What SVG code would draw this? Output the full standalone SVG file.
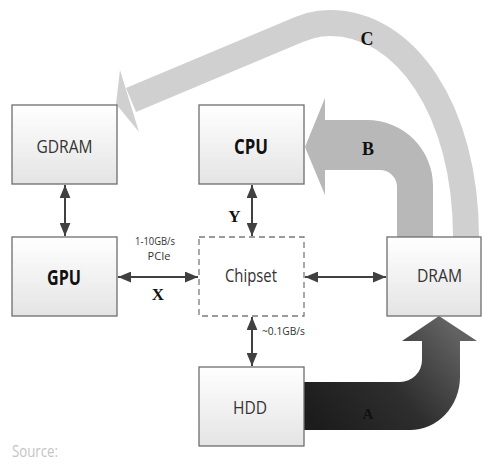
<svg xmlns="http://www.w3.org/2000/svg" width="482" height="464" viewBox="0 0 482 464">
<defs>
<linearGradient id="boxg" x1="0" y1="0" x2="0" y2="1">
<stop offset="0" stop-color="#ffffff"/>
<stop offset="1" stop-color="#e4e4e4"/>
</linearGradient>
<linearGradient id="ag" gradientUnits="userSpaceOnUse" x1="320" y1="430" x2="445" y2="320">
<stop offset="0" stop-color="#1c1c1c"/>
<stop offset="0.5" stop-color="#2e2e2e"/>
<stop offset="1" stop-color="#626262"/>
</linearGradient>
<marker id="ah" viewBox="0 0 12 10" refX="12" refY="5" markerWidth="6.5" markerHeight="5.5" orient="auto-start-reverse" markerUnits="strokeWidth">
<path d="M0,0 L12,5 L0,10 Z" fill="#404040"/>
</marker>
<style>
.box{fill:url(#boxg);stroke:#6e6e6e;stroke-width:1.3}
.dash{fill:#ffffff;stroke:#7a7a7a;stroke-width:1.3;stroke-dasharray:6 4}
.lbl{font-family:"Open Sans","Liberation Sans",sans-serif;font-size:19px;fill:#333;text-anchor:middle}
.blbl{font-family:"Open Sans","Liberation Sans",sans-serif;font-size:21px;font-weight:bold;fill:#111;text-anchor:middle}
.small{font-family:"Open Sans","Liberation Sans",sans-serif;font-size:11px;fill:#333;text-anchor:middle}
.ser{font-family:"Liberation Serif",serif;font-weight:bold;fill:#111;text-anchor:middle}
.conn{stroke:#404040;stroke-width:2;fill:none;marker-start:url(#ah);marker-end:url(#ah)}
</style>
</defs>
<g id="flows">
<g id="flow-C">
<path d="M466,237 C466,110 405,23 330,23 C315,23 305,27 293,32 L131,100" fill="none" stroke="#d0d0d0" stroke-width="26"/>
<polygon points="116,104 120,70 139,132" fill="#d0d0d0"/>
</g>
<path id="flow-B" d="M305,147 L325,98 L325,120 L367,120 A66,66 0 0 1 433,186 L433,237 L397,237 L397,187 A17,17 0 0 0 380,170 L325,170 L325,195 Z" fill="#b8b8b8"/>
<path id="flow-A" d="M304,382 L400,382 A22,22 0 0 0 422,360 L422,341 L402,341 L439,316 L477,341 L460,341 L460,377 A50,53 0 0 1 410,430 L304,430 Z" fill="url(#ag)"/>
</g>
<g id="gdram"><rect class="box" x="12" y="105" width="105" height="79"/><text class="lbl" x="64.5" y="153" textLength="56" lengthAdjust="spacingAndGlyphs">GDRAM</text></g>
<g id="cpu"><rect class="box" x="199" y="105" width="105" height="79"/><text class="blbl" x="251" y="154" textLength="34" lengthAdjust="spacingAndGlyphs">CPU</text></g>
<g id="gpu"><rect class="box" x="12" y="237" width="105" height="79"/><text class="blbl" x="64" y="285" textLength="34" lengthAdjust="spacingAndGlyphs">GPU</text></g>
<g id="chipset"><rect class="dash" x="199" y="237" width="105" height="79"/><text class="lbl" x="251" y="282" textLength="52" lengthAdjust="spacingAndGlyphs">Chipset</text></g>
<g id="dram"><rect class="box" x="387" y="237" width="94" height="79"/><text class="lbl" x="439.5" y="282" textLength="45" lengthAdjust="spacingAndGlyphs">DRAM</text></g>
<g id="hdd"><rect class="box" x="199" y="367" width="105" height="79"/><text class="lbl" x="250" y="414" textLength="34" lengthAdjust="spacingAndGlyphs">HDD</text></g>
<g id="connectors">
<line class="conn" x1="65" y1="185" x2="65" y2="236"/>
<line class="conn" x1="252" y1="185" x2="252" y2="236"/>
<line class="conn" x1="118" y1="277" x2="198" y2="277"/>
<line class="conn" x1="305" y1="277" x2="386" y2="277"/>
<line class="conn" x1="252" y1="317" x2="252" y2="366"/>
</g>
<g id="labels">
<text class="small" x="155" y="245" textLength="40" lengthAdjust="spacingAndGlyphs">1-10GB/s</text>
<text class="small" x="159" y="260">PCIe</text>
<text class="small" x="283.5" y="335" textLength="43" lengthAdjust="spacingAndGlyphs">~0.1GB/s</text>
<text class="ser" x="158" y="300" font-size="17">X</text>
<text class="ser" x="234.5" y="222" font-size="17">Y</text>
<text class="ser" x="368" y="419" font-size="15" fill="#111">A</text>
<text class="ser" x="368" y="155" font-size="18">B</text>
<text class="ser" x="367" y="45" font-size="18">C</text>
<text x="12" y="457" font-family="'Open Sans','Liberation Sans',sans-serif" font-size="16" fill="#c4c4c4" textLength="46" lengthAdjust="spacingAndGlyphs">Source:</text>
</g>
</svg>
